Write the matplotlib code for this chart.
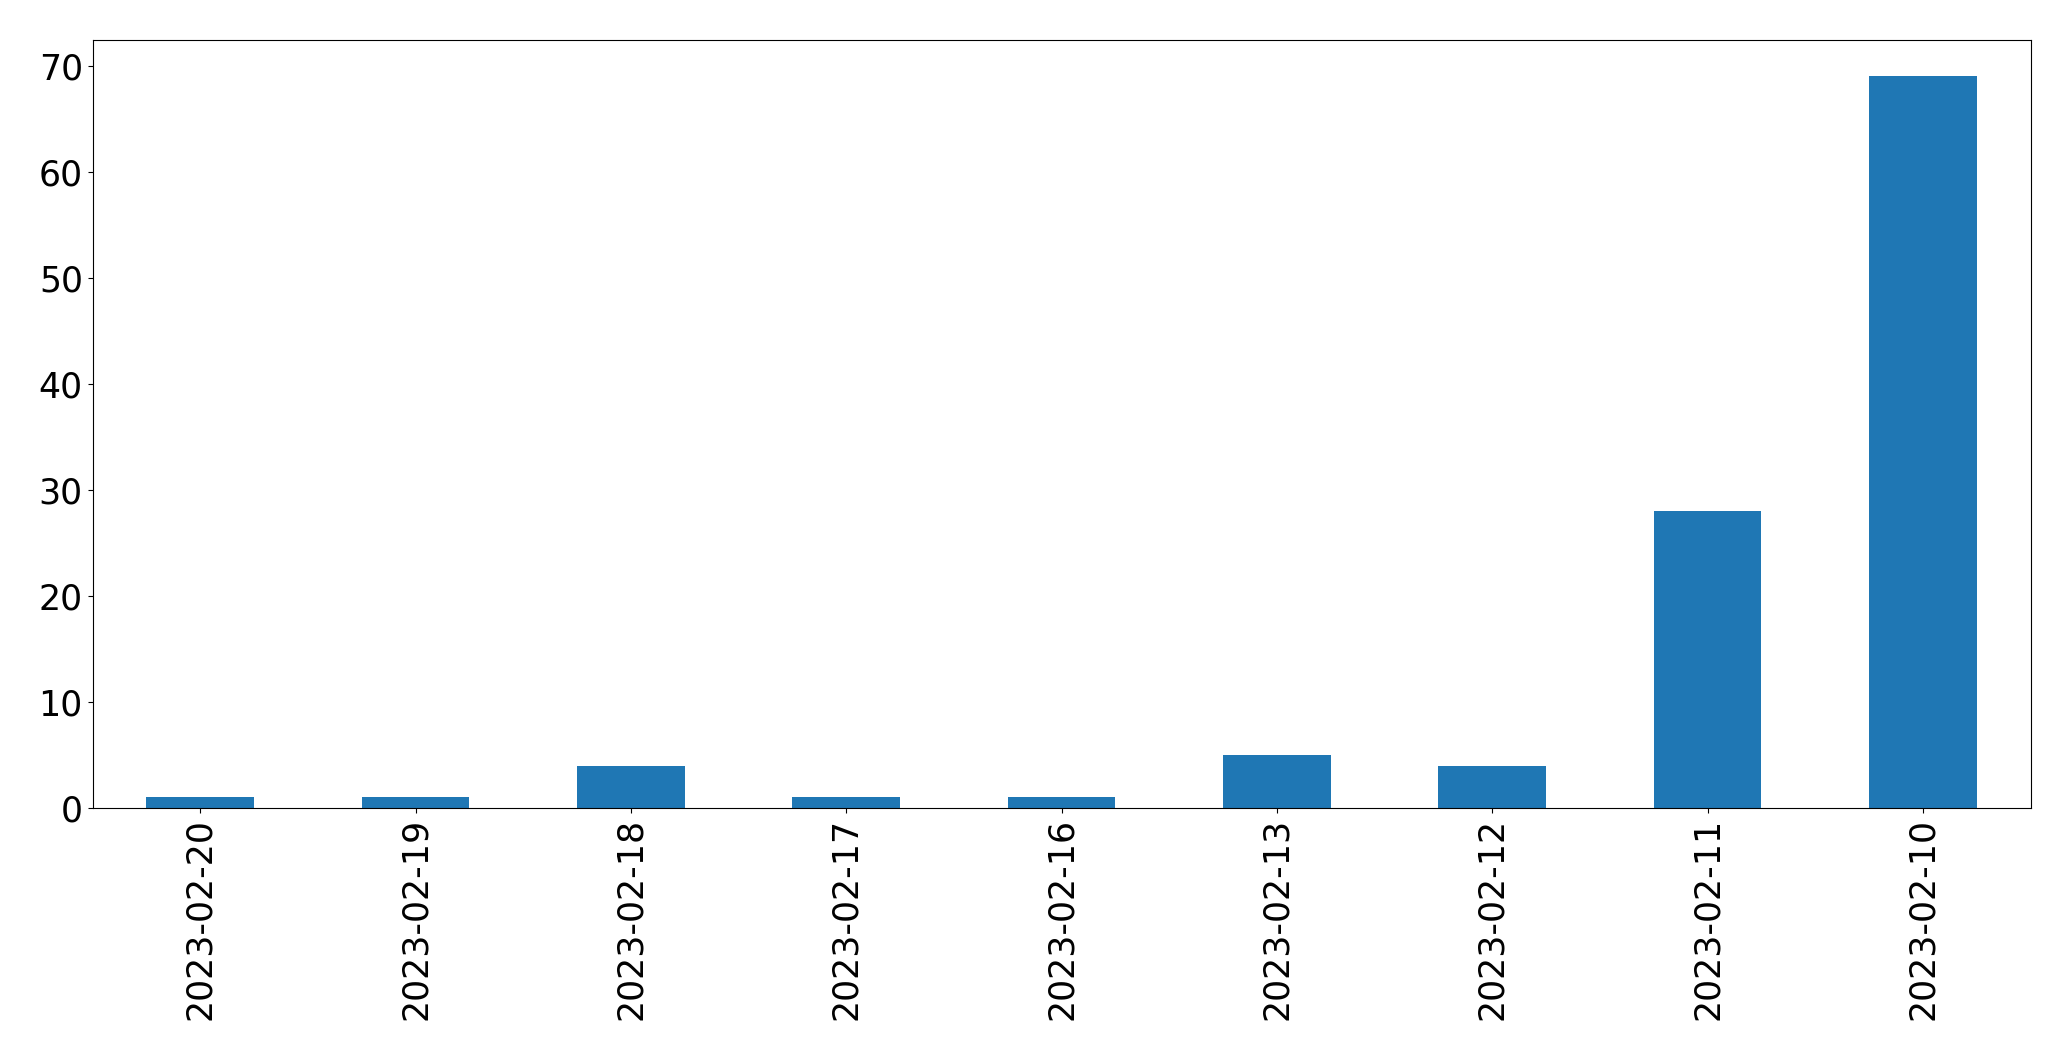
import numpy as np
import matplotlib
matplotlib.use('Agg')
import matplotlib.pyplot as plt

# Dates (categories) and counts per date
dates = ['2023-02-20', '2023-02-19', '2023-02-18', '2023-02-17', '2023-02-16',
         '2023-02-13', '2023-02-12', '2023-02-11', '2023-02-10']
counts = [1, 1, 4, 1, 1, 5, 4, 28, 69]

fig, ax = plt.subplots(figsize=(20.71, 10.61), dpi=100)
fig.subplots_adjust(left=0.0447, right=0.9805, top=0.9627, bottom=0.2385)

x = np.arange(len(dates))
ax.bar(x, counts, width=0.5, color='#1f77b4')
ax.set_xlim(-0.5, len(dates) - 0.5)
ax.set_ylim(0, max(counts) * 1.05)
ax.set_xticks(x)
ax.set_xticklabels(dates, rotation=90)
ax.tick_params(axis='both', labelsize=25)

plt.savefig('out.png', dpi=100)
